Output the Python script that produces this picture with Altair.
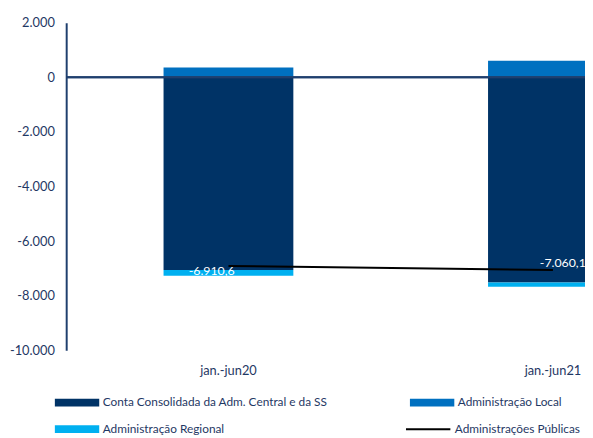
import altair as alt
import pandas as pd

categories = ["jan.-jun20", "jan.-jun21"]
series_names = [
    "Conta Consolidada da Adm. Central e da SS",
    "Administração Local",
    "Administração Regional",
]
central = [-7060.0, -7520.0]
local = [360.0, 610.0]
regional = [-210.6, -150.1]
total = [-6910.6, -7060.1]
total_name = "Administrações Públicas"
y_ticks = [2000, 0, -2000, -4000, -6000, -8000, -10000]

bar_colors = ["#003366", "#0070C0", "#00B0F0"]
text_color = "#1F3864"
axis_color = "#1F3F6E"
font = "Lato"

rows = []
for i, c in enumerate(categories):
    for j, (s, vals) in enumerate(zip(series_names, [central, local, regional])):
        rows.append({"cat": c, "series": s, "value": vals[i], "ord": j})
bars_df = pd.DataFrame(rows)
line_df = pd.DataFrame({"cat": categories, "total": total, "name": [total_name] * len(categories)})

x_scale = alt.Scale(domain=categories, range=[0, 658], paddingInner=0.6, paddingOuter=0.3)
y_scale = alt.Scale(domain=[-10000, 2000], nice=False, zero=False)

bar_path = "M-4,-0.7H4V0.7H-4Z"
line_path = "M-4,0H4"
sym_size = 126.5

bars = alt.Chart(bars_df).mark_bar(clip=True).encode(
    x=alt.X("cat:N", scale=x_scale, sort=categories,
            axis=alt.Axis(title=None, domain=False, ticks=False, labelAngle=0,
                          labelFont=font, labelFontSize=13, labelColor=text_color,
                          labelPadding=15)),
    y=alt.Y("value:Q", stack="zero", scale=y_scale,
            axis=alt.Axis(title=None, values=y_ticks, format=",.0f", grid=False, ticks=False,
                          domainColor=axis_color, domainWidth=2, labelFont=font,
                          labelFontSize=13, labelColor=text_color, labelPadding=12)),
    color=alt.Color("series:N", scale=alt.Scale(domain=series_names, range=bar_colors),
                    legend=alt.Legend(title=None, orient="none", legendX=5, legendY=379,
                                      direction="horizontal", columns=2, values=series_names,
                                      symbolType=bar_path, symbolSize=sym_size,
                                      symbolStrokeWidth=0, labelFont=font, labelFontSize=12,
                                      labelColor=text_color, labelLimit=400,
                                      columnPadding=83, rowPadding=15,
                                      padding=0, labelOffset=20)),
    order=alt.Order("ord:Q"),
)

zero = alt.Chart(line_df).mark_rule(color=axis_color, strokeWidth=2).encode(y=alt.datum(0))

line = alt.Chart(line_df).mark_line(strokeWidth=2).encode(
    x=alt.X("cat:N", scale=x_scale, sort=categories),
    y=alt.Y("total:Q", scale=y_scale),
    stroke=alt.Stroke("name:N", scale=alt.Scale(domain=[total_name], range=["#000000"]),
                      legend=alt.Legend(title=None, orient="none", legendX=360, legendY=405,
                                        symbolType=line_path, symbolSize=sym_size,
                                        symbolStrokeWidth=2, labelFont=font, labelFontSize=12,
                                        labelColor=text_color, labelLimit=400,
                                        padding=0, labelOffset=20)),
)

base_text = alt.Chart(line_df).transform_calculate(label="format(datum.total, ',.1f')")
label1 = base_text.transform_filter(alt.datum.cat == categories[0]).mark_text(
    color="white", font=font, fontSize=12.5, dx=-17, dy=5).encode(
    x=alt.X("cat:N", scale=x_scale, sort=categories),
    y=alt.Y("total:Q", scale=y_scale), text="label:N")
label2 = base_text.transform_filter(alt.datum.cat == categories[1]).mark_text(
    color="white", font=font, fontSize=12.5, dx=10, dy=-7).encode(
    x=alt.X("cat:N", scale=x_scale, sort=categories),
    y=alt.Y("total:Q", scale=y_scale), text="label:N")

chart = alt.layer(bars, zero, line, label1, label2).properties(
    width=526, height=332,
    autosize=alt.AutoSizeParams(type="none"),
    padding={"left": 59, "top": 12, "right": 0, "bottom": 86},
).resolve_legend(color="independent", stroke="independent").configure(
    locale={"number": {"decimal": ",", "thousands": ".", "grouping": [3],
                       "currency": ["", "€"], "minus": "-"}}
).configure_view(stroke=None)

chart.save("out.html", embed_options={"renderer": "svg", "actions": False})
